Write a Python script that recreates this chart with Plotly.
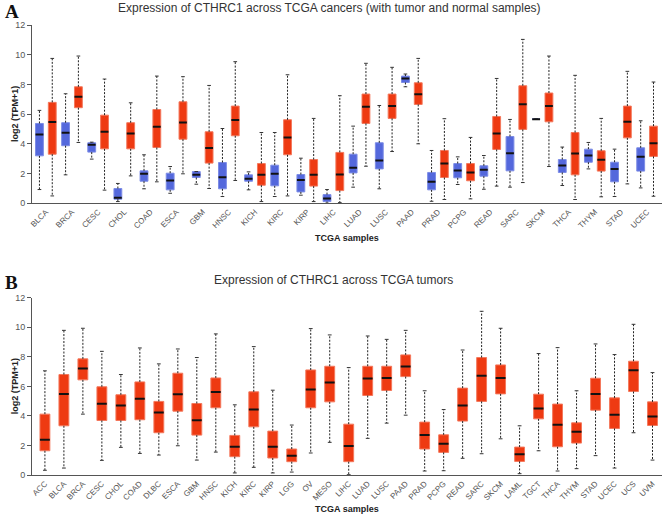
import plotly.graph_objects as go

# ---------------- Panel A data (normal vs tumor) ----------------
a_cats = ["BLCA", "BRCA", "CESC", "CHOL", "COAD", "ESCA", "GBM", "HNSC", "KICH", "KIRC",
          "KIRP", "LIHC", "LUAD", "LUSC", "PAAD", "PRAD", "PCPG", "READ", "SARC", "SKCM",
          "THCA", "THYM", "STAD", "UCEC"]

a_norm_min = [0.92, 1.91, 2.97, 0.11, 0.97, 0.67, 1.28, 0.45, 0.90, 0.45, 0.54, 0.00,
              1.08, 0.97, 7.84, 0.13, 1.26, 0.94, 1.08, 5.66, 1.19, 2.31, 0.45, 1.03]
a_norm_q1 = [3.19, 3.87, 3.44, 0.27, 1.48, 0.90, 1.73, 0.97, 1.48, 1.17, 0.76, 0.11,
             2.04, 2.31, 8.13, 0.90, 1.71, 1.82, 2.18, 5.66, 2.07, 2.76, 1.44, 2.16]
a_norm_med = [4.63, 4.74, 3.93, 0.36, 1.98, 1.53, 1.91, 1.75, 1.64, 1.98, 1.57, 0.31,
              2.38, 2.88, 8.40, 1.44, 2.20, 2.25, 3.37, 5.66, 2.54, 3.21, 2.31, 3.12]
a_norm_q3 = [5.37, 5.42, 4.07, 0.99, 2.18, 2.02, 2.13, 2.74, 1.91, 2.56, 1.93, 0.58,
             3.30, 4.07, 8.56, 2.07, 2.67, 2.52, 4.49, 5.66, 2.94, 3.64, 2.76, 3.73]
a_norm_max = [6.25, 7.37, 4.11, 1.33, 3.26, 2.47, 2.13, 5.03, 2.11, 4.76, 3.03, 0.92,
              5.19, 6.58, 8.70, 3.55, 3.12, 3.21, 5.64, 5.66, 3.78, 4.09, 3.64, 5.55]

a_tum_min = [0.49, 4.09, 0.88, 1.84, 1.44, 1.98, 0.99, 1.53, 0.11, 0.49, 0.11, 0.04,
             2.49, 3.48, 4.00, 0.25, 0.29, 1.15, 1.39, 2.47, 0.25, 0.43, 1.30, 0.47]
a_tum_q1 = [3.30, 6.43, 3.66, 3.66, 3.75, 4.31, 2.70, 4.54, 1.21, 3.26, 1.15, 0.85,
            5.37, 5.71, 6.65, 1.73, 1.51, 3.62, 4.97, 5.48, 1.91, 2.16, 4.40, 3.15]
a_tum_med = [5.46, 7.17, 4.81, 4.70, 5.15, 5.44, 3.71, 5.60, 1.91, 4.43, 1.91, 1.93,
             6.49, 6.54, 7.33, 2.67, 2.07, 4.70, 6.67, 6.54, 3.35, 2.92, 5.48, 4.04]
a_tum_q3 = [6.79, 7.84, 5.93, 5.42, 6.31, 6.83, 4.81, 6.54, 2.67, 5.62, 2.94, 3.42,
            7.35, 7.35, 8.11, 3.55, 2.67, 5.84, 7.91, 7.42, 4.76, 3.53, 6.54, 5.19]
a_tum_max = [9.75, 9.91, 8.36, 6.76, 8.56, 8.52, 7.93, 9.53, 4.76, 8.65, 5.71, 7.24,
             9.42, 9.15, 9.75, 5.69, 4.43, 8.40, 11.03, 9.91, 8.61, 5.71, 8.88, 8.16]

# ---------------- Panel B data (tumors only) ----------------
b_cats = ["ACC", "BLCA", "BRCA", "CESC", "CHOL", "COAD", "DLBC", "ESCA", "GBM", "HNSC",
          "KICH", "KIRC", "KIRP", "LGG", "OV", "MESO", "LIHC", "LUAD", "LUSC", "PAAD",
          "PRAD", "PCPG", "READ", "SARC", "SKCM", "LAML", "TGCT", "THCA", "THYM", "STAD",
          "UCEC", "UCS", "UVM"]
b_min = [0.32, 0.47, 4.12, 0.99, 1.87, 1.46, 1.35, 1.98, 1.01, 1.55, 0.14, 0.52, 0.14,
         0.20, 1.49, 2.21, 0.02, 2.48, 3.51, 4.05, 0.27, 0.29, 1.13, 1.44, 2.45, 0.09,
         1.64, 0.27, 0.43, 1.31, 0.47, 2.86, 1.01]
b_q1 = [1.64, 3.33, 6.44, 3.69, 3.69, 3.74, 2.86, 4.32, 2.70, 4.55, 1.24, 3.26, 1.15,
        0.90, 4.55, 4.95, 0.90, 5.38, 5.72, 6.66, 1.76, 1.53, 3.65, 4.98, 5.49, 0.92,
        3.80, 1.91, 2.16, 4.39, 3.15, 5.65, 3.35]
b_med = [2.39, 5.49, 7.20, 4.82, 4.71, 5.16, 4.23, 5.47, 3.71, 5.61, 1.91, 4.43, 1.91,
         1.31, 5.79, 6.26, 1.96, 6.53, 6.57, 7.34, 2.70, 2.12, 4.71, 6.71, 6.57, 1.40,
         4.50, 3.40, 2.93, 5.49, 4.07, 7.09, 3.96]
b_q3 = [4.12, 6.80, 7.86, 5.97, 5.43, 6.30, 4.98, 6.89, 4.84, 6.57, 2.68, 5.63, 2.97,
        1.76, 7.11, 7.36, 3.44, 7.36, 7.36, 8.13, 3.58, 2.72, 5.88, 7.95, 7.45, 1.89,
        5.47, 4.80, 3.53, 6.55, 5.22, 7.70, 4.95]
b_max = [7.05, 9.79, 9.93, 8.37, 6.80, 8.60, 7.52, 8.53, 7.95, 9.55, 4.75, 8.69, 5.74,
         3.38, 9.91, 9.48, 7.27, 9.41, 9.18, 9.79, 5.70, 4.43, 8.46, 11.08, 9.93, 3.33,
         8.22, 8.62, 5.70, 8.87, 8.15, 10.20, 6.93]

RED = "#EE3A12"
RED_EDGE = "#F4785C"
BLUE = "#5468DC"
BLUE_EDGE = "#7C8CE6"
FONT = "Liberation Sans, Arial, sans-serif"

fig = go.Figure()


def add_group(pos, lo, q1, med, q3, hi, fill, edge, width, cap, xa, ya):
    fig.add_trace(go.Box(
        x=pos, q1=q1, median=med, q3=q3, lowerfence=q1, upperfence=q3,
        width=width, fillcolor=fill, line=dict(color=edge, width=1),
        whiskerwidth=0, boxpoints=False, showlegend=False, hoverinfo="skip",
        xaxis=xa, yaxis=ya))
    wx, wy, cx, cy, mx, my = [], [], [], [], [], []
    for p, l, a, m, b, h in zip(pos, lo, q1, med, q3, hi):
        wx += [p, p, None, p, p, None]
        wy += [b, h, None, a, l, None]
        cx += [p - cap, p + cap, None, p - cap, p + cap, None]
        cy += [h, h, None, l, l, None]
        mx += [p - width / 2, p + width / 2, None]
        my += [m, m, None]
    fig.add_trace(go.Scatter(x=wx, y=wy, mode="lines", showlegend=False, hoverinfo="skip",
                             line=dict(color="#222222", width=1, dash="2px,1.5px"),
                             xaxis=xa, yaxis=ya))
    fig.add_trace(go.Scatter(x=cx, y=cy, mode="lines", showlegend=False, hoverinfo="skip",
                             line=dict(color="#333333", width=1), xaxis=xa, yaxis=ya))
    fig.add_trace(go.Scatter(x=mx, y=my, mode="lines", showlegend=False, hoverinfo="skip",
                             line=dict(color="#111111", width=2), xaxis=xa, yaxis=ya))


a_idx = list(range(len(a_cats)))
add_group([i - 0.245 for i in a_idx], a_norm_min, a_norm_q1, a_norm_med, a_norm_q3, a_norm_max,
          BLUE, BLUE_EDGE, 0.30, 0.07, "x", "y")
add_group([i + 0.245 for i in a_idx], a_tum_min, a_tum_q1, a_tum_med, a_tum_q3, a_tum_max,
          RED, RED_EDGE, 0.30, 0.07, "x", "y")

b_idx = list(range(len(b_cats)))
add_group(b_idx, b_min, b_q1, b_med, b_q3, b_max, RED, RED_EDGE, 0.52, 0.1, "x2", "y2")

axis_common = dict(showline=True, linecolor="#555555", linewidth=1, showgrid=False,
                   zeroline=False)
tickfont_x = dict(family=FONT, size=8, color="#555555")
tickfont_y = dict(family=FONT, size=9, color="#555555")

fig.update_layout(
    width=669, height=516,
    margin=dict(l=32, r=7, t=25, b=41),
    paper_bgcolor="white", plot_bgcolor="white",
    font=dict(family=FONT),
    xaxis=dict(domain=[0, 1], anchor="y", range=[-0.53, 23.57], tickmode="array",
               tickvals=a_idx, ticktext=a_cats, tickangle=-45, ticks="",
               tickfont=tickfont_x, **axis_common),
    yaxis=dict(domain=[0.604, 1.0], anchor="x", range=[0, 12], dtick=2, ticks="outside",
               ticklen=4, tickcolor="#555555", tickfont=tickfont_y, **axis_common),
    xaxis2=dict(domain=[0, 1], anchor="y2", range=[-0.68, 32.5], tickmode="array",
                tickvals=b_idx, ticktext=b_cats, tickangle=-45, ticks="",
                tickfont=tickfont_x, **axis_common),
    yaxis2=dict(domain=[0.0, 0.394], anchor="x2", range=[0, 12], dtick=2, ticks="outside",
                ticklen=4, tickcolor="#555555", tickfont=tickfont_y, **axis_common),
)

ann = [
    dict(text="<b>A</b>", x=-0.046, y=1.03, xanchor="left", yanchor="middle",
         font=dict(family="Liberation Serif, Times New Roman, serif", size=19, color="#111111")),
    dict(text="<b>B</b>", x=-0.046, y=0.428, xanchor="left", yanchor="middle",
         font=dict(family="Liberation Serif, Times New Roman, serif", size=19, color="#111111")),
    dict(text="Expression of CTHRC1 across TCGA cancers (with tumor and normal samples)",
         x=0.473, y=1.037, xanchor="center", yanchor="middle",
         font=dict(family=FONT, size=12, color="#333333")),
    dict(text="Expression of CTHRC1 across TCGA tumors",
         x=0.478, y=0.433, xanchor="center", yanchor="middle",
         font=dict(family=FONT, size=12, color="#333333")),
    dict(text="<b>log2 (TPM+1)</b>", x=-0.027, y=0.802, textangle=-90,
         xanchor="center", yanchor="middle", font=dict(family=FONT, size=9, color="#222222")),
    dict(text="<b>log2 (TPM+1)</b>", x=-0.027, y=0.197, textangle=-90,
         xanchor="center", yanchor="middle", font=dict(family=FONT, size=9, color="#222222")),
    dict(text="<b>TCGA samples</b>", x=0.5, y=0.527, xanchor="center", yanchor="middle",
         font=dict(family=FONT, size=9, color="#222222")),
    dict(text="<b>TCGA samples</b>", x=0.5, y=-0.076, xanchor="center", yanchor="middle",
         font=dict(family=FONT, size=9, color="#222222")),
]
for a in ann:
    a.update(xref="paper", yref="paper", showarrow=False)
fig.update_layout(annotations=ann)

# remove the browser's default 8px page margin so the figure sits at the window corner
fig.write_html("out.html", config={"displayModeBar": False},
               post_script="document.body.style.margin='0';document.body.style.overflow='hidden';")
